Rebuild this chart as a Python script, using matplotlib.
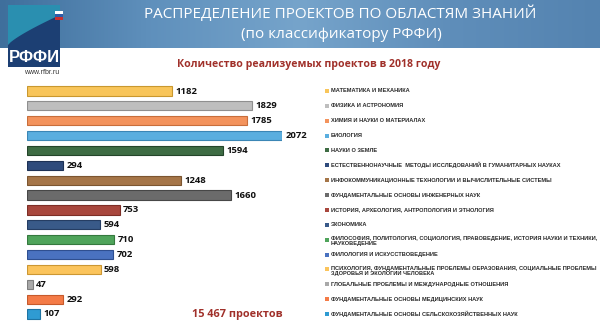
import numpy as np
import matplotlib.pyplot as plt
import matplotlib.transforms as mtransforms
from matplotlib.patches import Polygon, Rectangle
from matplotlib.colors import LinearSegmentedColormap

# Data
categories = [
    "МАТЕМАТИКА И МЕХАНИКА",
    "ФИЗИКА И АСТРОНОМИЯ",
    "ХИМИЯ И НАУКИ О МАТЕРИАЛАХ",
    "БИОЛОГИЯ",
    "НАУКИ О ЗЕМЛЕ",
    "ЕСТЕСТВЕННОНАУЧНЫЕ  МЕТОДЫ ИССЛЕДОВАНИЙ В ГУМАНИТАРНЫХ НАУКАХ",
    "ИНФОКОММУНИКАЦИОННЫЕ ТЕХНОЛОГИИ И ВЫЧИСЛИТЕЛЬНЫЕ СИСТЕМЫ",
    "ФУНДАМЕНТАЛЬНЫЕ ОСНОВЫ ИНЖЕНЕРНЫХ НАУК",
    "ИСТОРИЯ, АРХЕОЛОГИЯ, АНТРОПОЛОГИЯ И ЭТНОЛОГИЯ",
    "ЭКОНОМИКА",
    "ФИЛОСОФИЯ, ПОЛИТОЛОГИЯ, СОЦИОЛОГИЯ, ПРАВОВЕДЕНИЕ, ИСТОРИЯ НАУКИ И ТЕХНИКИ,\nНАУКОВЕДЕНИЕ",
    "ФИЛОЛОГИЯ И ИСКУССТВОВЕДЕНИЕ",
    "ПСИХОЛОГИЯ, ФУНДАМЕНТАЛЬНЫЕ ПРОБЛЕМЫ ОБРАЗОВАНИЯ, СОЦИАЛЬНЫЕ ПРОБЛЕМЫ\nЗДОРОВЬЯ И ЭКОЛОГИИ ЧЕЛОВЕКА",
    "ГЛОБАЛЬНЫЕ ПРОБЛЕМЫ И МЕЖДУНАРОДНЫЕ ОТНОШЕНИЯ",
    "ФУНДАМЕНТАЛЬНЫЕ ОСНОВЫ МЕДИЦИНСКИХ НАУК",
    "ФУНДАМЕНТАЛЬНЫЕ ОСНОВЫ СЕЛЬСКОХОЗЯЙСТВЕННЫХ НАУК",
]
values = [1182, 1829, 1785, 2072, 1594, 294, 1248, 1660, 753, 594, 710, 702, 598, 47, 292, 107]
colors = ["#F8C55A", "#BEBEBE", "#F3935C", "#5AAEDF", "#3E6C44", "#2F4B7C",
          "#A57548", "#6B6B6B", "#A8473D", "#395A89", "#4FA45B", "#4A72C0",
          "#FBC45C", "#A9A9A9", "#F47B47", "#2F9BD2"]
edges = ["#C9982F", "#8F8F8F", "#C86E3B", "#3B86B5", "#24452A", "#1D3155",
         "#7C5530", "#474747", "#7D2E26", "#253D63", "#35793E", "#2F4F90",
         "#CC9733", "#7E7E7E", "#C65A2C", "#1E74A3"]
total_label = "15 467 проектов"

W, H = 600, 328
fig = plt.figure(figsize=(6.0, 3.28), dpi=100)
fig.patch.set_facecolor("white")

# header banner
bax = fig.add_axes([0, 1 - 48 / H, 1, 48 / H])
gx = np.vstack([np.linspace(0, 1, 256)] * 10)
cmap = LinearSegmentedColormap.from_list("b", ["#3F6F9C", "#5F90BC", "#76A4CB", "#5F8EBA", "#5483B0"])
bax.imshow(gx, aspect="auto", cmap=cmap, extent=[0, 1, 0, 1])
bax.set_xlim(0, 1)
bax.set_ylim(0, 1)
bax.axis("off")

fig.text(340 / W, 1 - 14 / H, "РАСПРЕДЕЛЕНИЕ ПРОЕКТОВ ПО ОБЛАСТЯМ ЗНАНИЙ",
         color="white", fontsize=11, ha="center", va="center", family="Open Sans")
fig.text(341 / W, 1 - 34 / H, "(по классификатору РФФИ)",
         color="white", fontsize=11, ha="center", va="center", family="Open Sans")

# logo
def px(x, y):
    return (x / W, 1 - y / H)

fig.patches.append(Rectangle(px(8, 48), 52 / W, 43 / H, transform=fig.transFigure,
                             facecolor="#2A8FB0", edgecolor="none"))
curve_x = np.linspace(8, 60, 20)
curve_y = 45 - 30 * ((curve_x - 8) / 52) ** 0.8
pts = [px(8, 67)] + [px(x, y) for x, y in zip(curve_x, curve_y)] + [px(60, 67)]
fig.patches.append(Polygon(pts, closed=True, transform=fig.transFigure,
                           facecolor="#1C3F73", edgecolor="none"))
fig.patches.append(Rectangle(px(55, 14), 8 / W, 3 / H, transform=fig.transFigure, facecolor="white"))
fig.patches.append(Rectangle(px(55, 17), 8 / W, 3 / H, transform=fig.transFigure, facecolor="#2E5BA8"))
fig.patches.append(Rectangle(px(55, 20), 8 / W, 3 / H, transform=fig.transFigure, facecolor="#C8302E"))
fig.text(34 / W, 1 - 58 / H, "РФФИ", color="white", fontsize=12, fontweight="bold",
         ha="center", va="center", family="Liberation Sans")
fig.text(42 / W, 1 - 72 / H, "www.rfbr.ru", color="#333333", fontsize=5,
         ha="center", va="center", family="Liberation Sans")

fig.text(309 / W, 1 - 64 / H, "Количество реализуемых проектов в 2018 году",
         color="#A0302A", fontsize=7.6, fontweight="bold", ha="center", va="center",
         family="Open Sans")

# bars
n = len(values)
y = np.arange(n)
spacing = (314 - 91) / (n - 1)
top = 91 - spacing / 2
bottom = 314 + spacing / 2
ax = fig.add_axes([27 / W, 1 - bottom / H, 255 / W, (bottom - top) / H])
ax.barh(y, values, height=0.62, color=colors, edgecolor=edges, linewidth=0.8)
ax.set_xlim(0, 2072)
ax.set_ylim(n - 0.5, -0.5)
ax.axis("off")

for i, v in enumerate(values):
    ax.text(v + 28, i, str(v), va="center", ha="left", fontsize=6.8,
            fontweight="bold", color="#111111", family="Open Sans", clip_on=False)

# legend-like labels on the right
trans = mtransforms.blended_transform_factory(fig.transFigure, ax.transData)
leg_font = ["Liberation Sans", "DejaVu Sans"]
labels = []
for i, (cat, c) in enumerate(zip(categories, colors)):
    ax.plot([327.5 / W], [i], marker="s", markersize=2.6, color=c, transform=trans,
            clip_on=False, markeredgewidth=0)
    if "\n" in cat:
        t = ax.annotate(cat, xy=(331 / W, i), xycoords=trans, xytext=(0, 2.8),
                        textcoords="offset points", va="top", ha="left", fontsize=4.6,
                        fontweight="bold", color="#2A2A2A", linespacing=1.05,
                        family=leg_font)
    else:
        t = ax.text(331 / W, i, cat, transform=trans, va="center", ha="left", fontsize=4.6,
                    fontweight="bold", color="#2A2A2A", family=leg_font)
    labels.append(t)

# scale legend text so the longest line spans like the reference (~229 px)
fig.canvas.draw()
r = fig.canvas.get_renderer()
w5 = labels[5].get_window_extent(r).width
size = 4.6 * 229 / w5
for t in labels:
    t.set_fontsize(size)

ax.text(283 / W, n - 1, total_label, transform=trans, ha="right", va="center",
        fontsize=7.8, fontweight="bold", color="#A0302A", family="Open Sans")

fig.savefig("out.png", dpi=100)
